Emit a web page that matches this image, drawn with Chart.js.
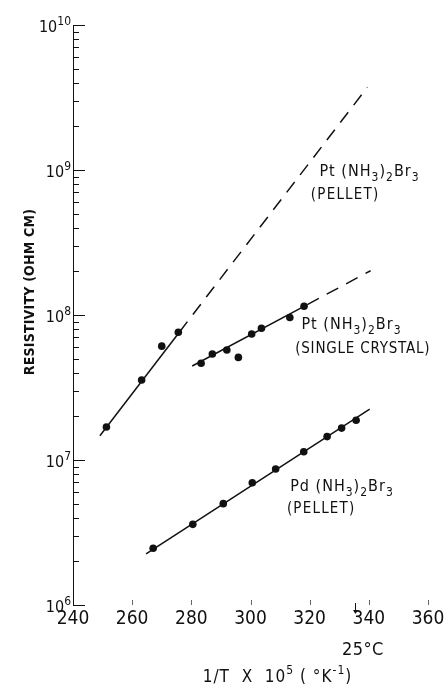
<!DOCTYPE html>
<html>
<head>
<meta charset="utf-8">
<script src="https://cdn.jsdelivr.net/npm/chart.js@4.4.1/dist/chart.umd.min.js"></script>
<style>
  html, body { margin: 0; padding: 0; background: #fff; }
  #wrap { width: 448px; height: 684px; }
</style>
</head>
<body>
<div id="wrap"><canvas id="chart" width="448" height="684"></canvas></div>
<script>
// =======================
// Data
// =======================
const xTicks = [240, 260, 280, 300, 320, 340, 360];
const yDecades = [6, 7, 8, 9, 10];

// Pt(NH3)2Br3 pellet
const ptPelletX = [251.3, 263.2, 270.0, 275.6];
const ptPelletY = [1.69e7, 3.56e7, 6.1e7, 7.6e7];
// fitted line: solid between first two, dashed after
const ptPelletFitX = [249.1, 276.0, 339.5];
const ptPelletFitY = [1.47e7, 7.64e7, 3.72e9];

// Pt(NH3)2Br3 single crystal
const ptCrystalX = [283.3, 287.1, 292.0, 295.9, 300.4, 303.7, 313.3, 318.1];
const ptCrystalY = [4.65e7, 5.38e7, 5.74e7, 5.1e7, 7.4e7, 8.1e7, 9.6e7, 1.15e8];
const ptCrystalFitX = [280.3, 319.2, 340.6];
const ptCrystalFitY = [4.45e7, 1.18e8, 2.02e8];

// Pd(NH3)2Br3 pellet
const pdPelletX = [267.1, 280.5, 290.8, 300.6, 308.5, 318.0, 325.9, 330.8, 335.7];
const pdPelletY = [2.46e6, 3.6e6, 5.0e6, 6.97e6, 8.67e6, 1.14e7, 1.45e7, 1.66e7, 1.88e7];
const pdFitX = [264.7, 340.3];
const pdFitY = [2.25e6, 2.24e7];

// 25 C marker on the 1/T axis
const roomTempX = 335.4;

// =======================
// Helpers
// =======================
const FONT = "'Liberation Sans Narrow', 'DejaVu Sans Condensed', 'Liberation Sans', sans-serif";
const INK = '#111';

function toPts(xs, ys) { return xs.map((x, i) => ({ x: x, y: ys[i] })); }

function pointSet(xs, ys) {
  return { data: toPts(xs, ys), showLine: false, pointRadius: 3.8, pointHoverRadius: 3.8,
           pointBackgroundColor: INK, pointBorderColor: INK, pointBorderWidth: 0 };
}
function lineSet(xs, ys, dashed) {
  return { data: toPts(xs, ys), showLine: true, pointRadius: 0, borderColor: INK,
           borderWidth: 1.5, borderDash: dashed ? [13, 9] : [], fill: false };
}

// parts: [text, shift] shift 0 = normal, 1 = subscript, -1 = superscript
function drawRich(ctx, parts, x, y, size, weight, spacing, align) {
  const small = Math.round(size * 0.72);
  ctx.letterSpacing = spacing + 'px';
  let total = 0;
  parts.forEach(p => {
    ctx.font = `${weight} ${p[1] ? small : size}px ${FONT}`;
    total += ctx.measureText(p[0]).width;
  });
  let cx = align === 'center' ? x - total / 2 : align === 'right' ? x - total : x;
  ctx.textAlign = 'left';
  ctx.textBaseline = 'middle';
  parts.forEach(p => {
    ctx.font = `${weight} ${p[1] ? small : size}px ${FONT}`;
    const dy = p[1] === 1 ? size * 0.35 : p[1] === -1 ? -size * 0.4 : 0;
    ctx.fillText(p[0], cx, y + dy);
    cx += ctx.measureText(p[0]).width;
  });
  ctx.letterSpacing = '0px';
}

const ptFormula = [['Pt (NH', 0], ['3', 1], [')', 0], ['2', 1], ['Br', 0], ['3', 1]];
const pdFormula = [['Pd (NH', 0], ['3', 1], [')', 0], ['2', 1], ['Br', 0], ['3', 1]];

// =======================
// Decorations: inside ticks, labels, titles
// =======================
const decor = {
  id: 'decor',
  afterDraw(chart) {
    const { ctx, chartArea: a, scales: { x, y } } = chart;
    ctx.save();
    ctx.strokeStyle = INK;
    ctx.fillStyle = INK;
    ctx.lineWidth = 1;

    // y ticks drawn inward (decades long, 2..9 short)
    yDecades.forEach(d => {
      for (let m = 1; m <= 9; m++) {
        const v = m * Math.pow(10, d);
        if (v > y.max * 1.0001) break;
        const py = Math.round(y.getPixelForValue(v)) + 0.5;
        ctx.beginPath();
        ctx.moveTo(a.left, py);
        ctx.lineTo(a.left + (m === 1 ? 12 : 6), py);
        ctx.stroke();
      }
    });

    // y tick labels: 10 with superscript exponent
    yDecades.forEach(d => {
      const py = y.getPixelForValue(Math.pow(10, d));
      drawRich(ctx, [['10', 0], [String(d), -1]], a.left - 2, py + 3, 16, 'normal', 0, 'right');
    });

    // small x tick marks
    ctx.strokeStyle = '#666';
    xTicks.slice(1).forEach(v => {
      const px = Math.round(x.getPixelForValue(v)) + 0.5;
      ctx.beginPath();
      ctx.moveTo(px, a.bottom - 5);
      ctx.lineTo(px, a.bottom);
      ctx.stroke();
    });

    // 25 C arrow
    ctx.strokeStyle = INK;
    const ax = Math.round(x.getPixelForValue(roomTempX)) + 0.5;
    ctx.beginPath();
    ctx.moveTo(ax, a.bottom - 2);
    ctx.lineTo(ax, a.bottom + 6);
    ctx.stroke();
    ctx.beginPath();
    ctx.moveTo(ax - 2.5, a.bottom + 5);
    ctx.lineTo(ax + 2.5, a.bottom + 5);
    ctx.lineTo(ax, a.bottom + 9);
    ctx.closePath();
    ctx.fill();
    drawRich(ctx, [['25°C', 0]], x.getPixelForValue(338), a.bottom + 45, 18, 'normal', 0.5, 'center');

    // series labels
    drawRich(ctx, ptFormula, x.getPixelForValue(323.3), y.getPixelForValue(9.7e8), 16, 'normal', 1, 'left');
    drawRich(ctx, [['(PELLET)', 0]], x.getPixelForValue(320.4), y.getPixelForValue(6.7e8), 15, 'normal', 1.2, 'left');
    drawRich(ctx, ptFormula, x.getPixelForValue(317.2), y.getPixelForValue(8.5e7), 16, 'normal', 1, 'left');
    drawRich(ctx, [['(SINGLE CRYSTAL)', 0]], x.getPixelForValue(315.1), y.getPixelForValue(5.8e7), 15, 'normal', 0.8, 'left');
    drawRich(ctx, pdFormula, x.getPixelForValue(313.4), y.getPixelForValue(6.5e6), 16, 'normal', 1, 'left');
    drawRich(ctx, [['(PELLET)', 0]], x.getPixelForValue(312.3), y.getPixelForValue(4.6e6), 15, 'normal', 1.2, 'left');

    // x axis title
    drawRich(ctx, [['1/T  X  10', 0], ['5', -1], [' ( °K', 0], ['-1', -1], [')', 0]],
             (a.left + a.right) / 2 + 27, 678, 17, 'normal', 1, 'center');

    // y axis title
    ctx.translate(30, 292);
    ctx.rotate(-Math.PI / 2);
    drawRich(ctx, [['RESISTIVITY (OHM CM)', 0]], 0, 0, 14, 'bold', 0.2, 'center');
    ctx.restore();
  }
};

// =======================
// Chart
// =======================
const ctx = document.getElementById('chart').getContext('2d');
new Chart(ctx, {
  type: 'scatter',
  data: {
    datasets: [
      lineSet(ptPelletFitX.slice(0, 2), ptPelletFitY.slice(0, 2), false),
      lineSet(ptPelletFitX.slice(1), ptPelletFitY.slice(1), true),
      pointSet(ptPelletX, ptPelletY),
      lineSet(ptCrystalFitX.slice(0, 2), ptCrystalFitY.slice(0, 2), false),
      lineSet(ptCrystalFitX.slice(1), ptCrystalFitY.slice(1), true),
      pointSet(ptCrystalX, ptCrystalY),
      lineSet(pdFitX, pdFitY, false),
      pointSet(pdPelletX, pdPelletY)
    ]
  },
  options: {
    responsive: false,
    animation: false,
    devicePixelRatio: 1,
    layout: { padding: { left: 0, right: 20, top: 25, bottom: 0 } },
    plugins: { legend: { display: false }, tooltip: { enabled: false } },
    scales: {
      x: {
        type: 'linear', min: 240, max: 360,
        afterBuildTicks: s => { s.ticks = xTicks.map(v => ({ value: v })); },
        afterFit: s => { s.height = 79; },
        grid: { display: false, drawTicks: false },
        border: { display: false },
        ticks: { color: INK, padding: 3, font: { family: FONT, size: 19 }, autoSkip: false, maxRotation: 0 }
      },
      y: {
        type: 'logarithmic', min: 1e6, max: 1e10,
        afterFit: s => { s.width = 73; },
        grid: { display: false, drawTicks: false },
        border: { display: true, color: INK, width: 1 },
        ticks: { display: false }
      }
    }
  },
  plugins: [decor]
});
</script>
</body>
</html>
